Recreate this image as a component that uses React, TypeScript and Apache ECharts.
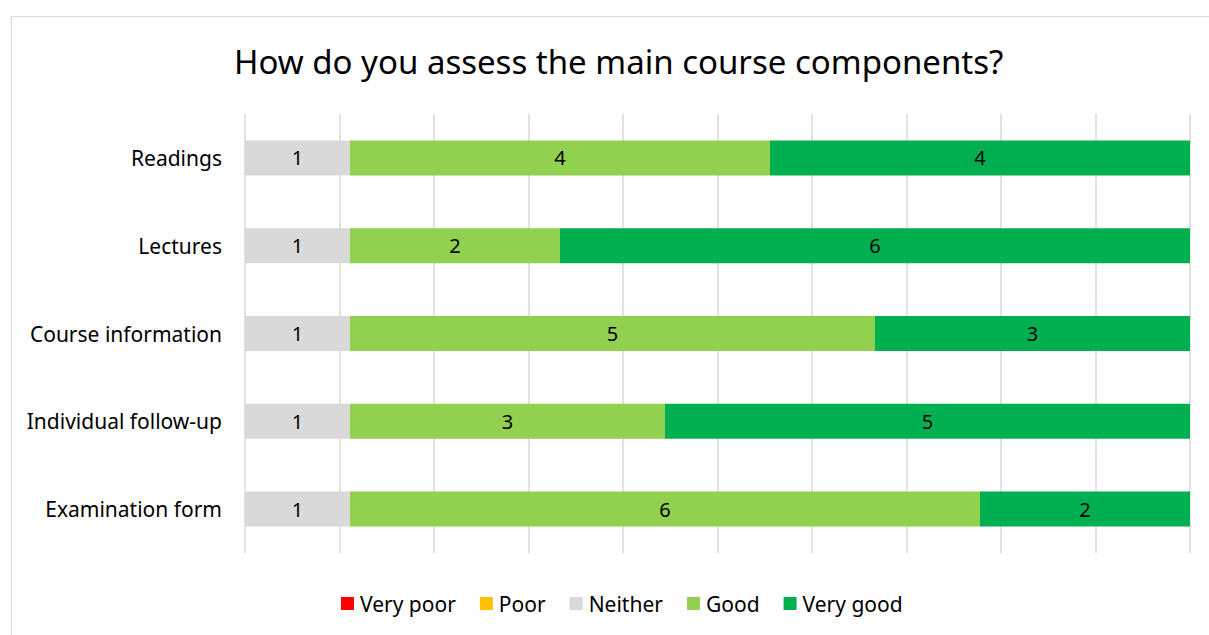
import React, { useEffect, useRef } from "react";
import * as echarts from "echarts";

const categories = ["Readings", "Lectures", "Course information", "Individual follow-up", "Examination form"];
const seriesNames = ["Very poor", "Poor", "Neither", "Good", "Very good"];
const veryPoor = [0, 0, 0, 0, 0];
const poor = [0, 0, 0, 0, 0];
const neither = [1, 1, 1, 1, 1];
const good = [4, 2, 5, 3, 6];
const veryGood = [4, 6, 3, 5, 2];
const colors = ["#FF0000", "#FFC000", "#D9D9D9", "#92D050", "#00B050"];

const FONT = "'Noto Sans', sans-serif";

export default function App() {
  const ref = useRef<HTMLDivElement>(null);
  useEffect(() => {
    if (!ref.current) return;
    const chart = echarts.init(ref.current, null, { renderer: "svg" });
    const all = [veryPoor, poor, neither, good, veryGood];
    const totals = categories.map((_, i) => all.reduce((s, arr) => s + arr[i], 0));
    const series = all.map((arr, k) => ({
      name: seriesNames[k],
      type: "bar",
      stack: "total",
      barWidth: 35,
      itemStyle: { color: colors[k] },
      label: {
        show: true,
        position: "inside",
        color: "#000",
        fontSize: 20,
        fontFamily: FONT,
        formatter: (p: any) => (arr[p.dataIndex] === 0 ? "" : String(arr[p.dataIndex])),
      },
      data: arr.map((v, i) => (v / totals[i]) * 100),
    }));
    chart.setOption({
      animation: false,
      backgroundColor: "#fff",
      title: {
        text: "How do you assess the main course components?",
        left: 229,
        top: 40,
        textStyle: { fontFamily: FONT, fontSize: 33, fontWeight: "normal", color: "#000" },
      },
      graphic: [
        {
          type: "rect",
          shape: { x: 11.5, y: 16.5, width: 1220, height: 640 },
          style: { fill: "none", stroke: "#D9D9D9", lineWidth: 1 },
          silent: true,
        },
      ],
      legend: {
        data: seriesNames,
        bottom: 16,
        left: 336,
        itemWidth: 13,
        itemHeight: 13,
        itemGap: 24,
        icon: "rect",
        textStyle: { fontFamily: FONT, fontSize: 21, color: "#000", padding: [0, 0, 0, 1] },
      },
      grid: { left: 245, right: 19, top: 114, bottom: 82, containLabel: false },
      xAxis: {
        type: "value",
        min: 0,
        max: 100,
        interval: 10,
        axisLabel: { show: false },
        axisLine: { show: false },
        axisTick: { show: false },
        splitLine: { show: true, lineStyle: { color: "#D9D9D9", width: 1.5 } },
      },
      yAxis: {
        type: "category",
        data: categories,
        inverse: true,
        axisLine: { show: false },
        axisTick: { show: false },
        axisLabel: { margin: 23, fontFamily: FONT, fontSize: 21, color: "#000" },
      },
      series,
    });
    return () => chart.dispose();
  }, []);
  return (
    <div
      ref={ref}
      style={{ position: "fixed", left: 0, top: 0, width: 1209, height: 635 }}
    />
  );
}
